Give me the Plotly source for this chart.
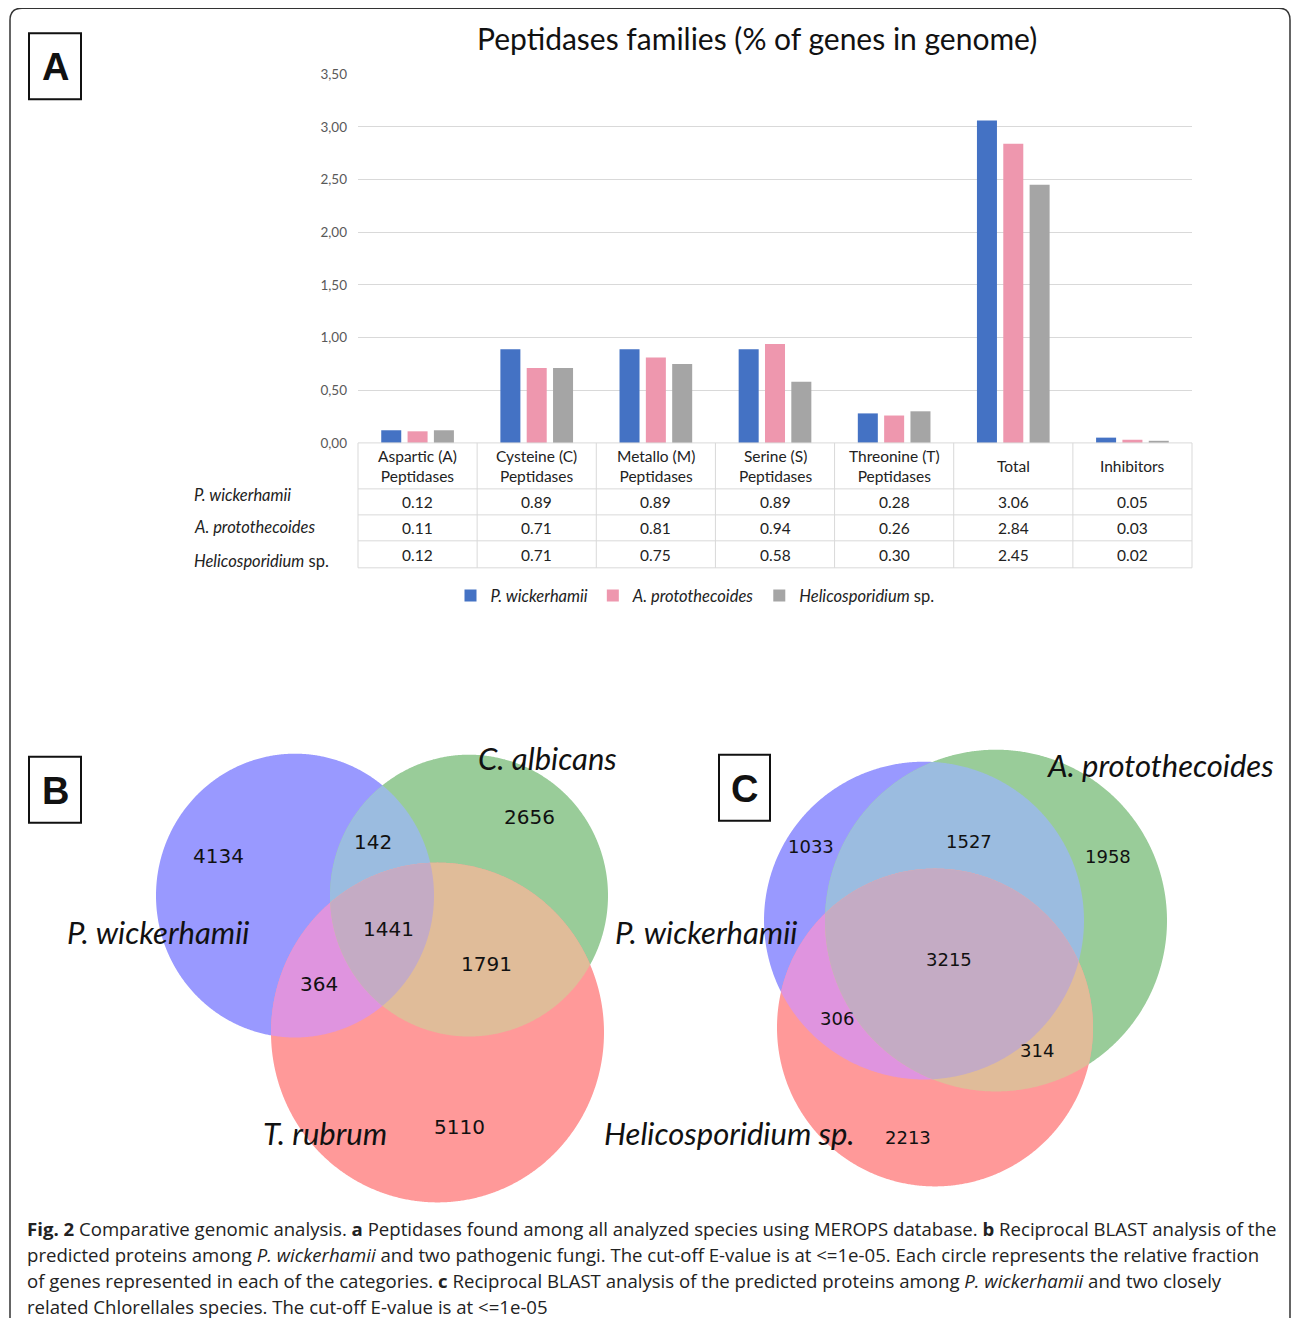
import numpy as np
import plotly.graph_objects as go

W, H = 1292, 1326

# ---------------- data ----------------
categories = ["Aspartic (A)<br>Peptidases", "Cysteine (C)<br>Peptidases", "Metallo (M)<br>Peptidases",
              "Serine (S)<br>Peptidases", "Threonine (T)<br>Peptidases", "Total", "Inhibitors"]
species_names = ["<i>P. wickerhamii</i>", "<i>A. protothecoides</i>", "<i>Helicosporidium</i> sp."]
p_wickerhamii = [0.12, 0.89, 0.89, 0.89, 0.28, 3.06, 0.05]
a_protothecoides = [0.11, 0.71, 0.81, 0.94, 0.26, 2.84, 0.03]
helicosporidium = [0.12, 0.71, 0.75, 0.58, 0.30, 2.45, 0.02]
y_tick_values = [0, 0.5, 1.0, 1.5, 2.0, 2.5, 3.0, 3.5]
y_tick_labels = ["0,00", "0,50", "1,00", "1,50", "2,00", "2,50", "3,00", "3,50"]
chart_title = "Peptidases families (% of genes in genome)"

venn_regions = ["100", "010", "110", "001", "101", "011", "111"]
venn_b_sets = ["P. wickerhamii", "C. albicans", "T. rubrum"]
venn_b_counts = [4134, 2656, 142, 5110, 364, 1791, 1441]
venn_c_sets = ["P. wickerhamii", "A. protothecoides", "Helicosporidium sp."]
venn_c_counts = [1033, 1958, 1527, 2213, 306, 314, 3215]

caption_lines = [
    "<b>Fig. 2</b> Comparative genomic analysis. <b>a</b> Peptidases found among all analyzed species using MEROPS database. <b>b</b> Reciprocal BLAST analysis of the",
    "predicted proteins among <i>P. wickerhamii</i> and two pathogenic fungi. The cut-off E-value is at &lt;=1e-05. Each circle represents the relative fraction",
    "of genes represented in each of the categories. <b>c</b> Reciprocal BLAST analysis of the predicted proteins among <i>P. wickerhamii</i> and two closely",
    "related Chlorellales species. The cut-off E-value is at &lt;=1e-05",
]

# ---------------- layout / style ----------------
# vertical placement helper (maps target picture rows to figure rows)
Y_OFF, Y_SC = 7.8, 0.9886
def Y(y):
    return (y - Y_OFF) / Y_SC

series_colors = ["#4472C4", "#EE97AE", "#A5A5A5"]
PLOT_L, PLOT_R, PLOT_T, PLOT_B = 358, 1192, 74, 443
COL_W = (PLOT_R - PLOT_L) / len(categories)
ROW_LINES = [443, 489, 515, 541, 568]
ROW_Y = [502, 528, 555]
ROW_LABEL_Y = [495, 527, 561]
CHART_FONT = "Lato"

venn_b_geom = [(295, 896, 139, 142), (469, 896, 139, 141), (437.5, 1033, 166.5, 170)]
venn_c_geom = [(924, 921, 160, 159), (996, 921, 171, 171), (935, 1028, 158, 159)]
venn_b_count_pos = [(218, 856), (529, 817), (373, 842), (459, 1128), (319, 984), (486, 964), (388, 929)]
venn_c_count_pos = [(811, 847), (1108, 857), (969, 842), (908, 1138), (837, 1019), (1037, 1051), (949, 960)]
venn_b_label_pos = [(158, 932), (547, 758), (325, 1134)]
venn_c_label_pos = [(706, 932), (1160, 765), (729, 1134)]
region_colors = {"100": "#9999FF", "010": "#99CC99", "001": "#FF9999",
                 "110": "#9BBCE0", "101": "#DF94DF", "011": "#E0BC99", "111": "#C4ABC4"}

fig = go.Figure()

# ---------------- bar chart ----------------
for name, vals, col in zip(species_names, [p_wickerhamii, a_protothecoides, helicosporidium], series_colors):
    fig.add_trace(go.Bar(x=categories, y=vals, name=name, marker=dict(color=col, line=dict(width=0)),
                         xaxis="x", yaxis="y", hoverinfo="skip"))

# invisible pixel-space overlay axis for table, venn, annotations
fig.add_trace(go.Scatter(x=[0], y=[0], xaxis="x2", yaxis="y2", mode="markers",
                         marker=dict(opacity=0), showlegend=False, hoverinfo="skip"))

shapes = []
annotations = []

def px_ann(x, y, text, size, color="#222", family=CHART_FONT, xanchor="center", **kw):
    annotations.append(dict(x=x, y=Y(y), xref="x2", yref="y2", text=text, showarrow=False,
                            xanchor=xanchor, yanchor="middle",
                            font=dict(size=size, color=color, family=family), **kw))

def px_line(x0, y0, x1, y1, color="#D9D9D9", width=1):
    shapes.append(dict(type="line", x0=x0, y0=Y(y0), x1=x1, y1=Y(y1), xref="x2", yref="y2",
                       line=dict(color=color, width=width), layer="above"))

# outer frame
fy0, fy1, fy2 = Y(8), Y(20), Y(1340)
shapes.append(dict(type="path", xref="x2", yref="y2",
                   path=f"M 10,{fy2} L 10,{fy1} Q 10,{fy0} 22,{fy0} L 1279,{fy0} Q 1290,{fy0} 1290,{fy1} L 1290,{fy2}",
                   line=dict(color="#333", width=1.5)))

# title
px_ann(757, 38, chart_title, 30, color="#111")

# table
for yl in ROW_LINES:
    px_line(PLOT_L, yl, PLOT_R, yl)
for i in range(len(categories) + 1):
    x = PLOT_L + i * COL_W
    px_line(x, ROW_LINES[0], x, ROW_LINES[-1])
series_all = [p_wickerhamii, a_protothecoides, helicosporidium]
for i, cat in enumerate(categories):
    cx = PLOT_L + (i + 0.5) * COL_W
    px_ann(cx, 466, cat, 15.5, color="#222")
    for r, vals in enumerate(series_all):
        px_ann(cx, ROW_Y[r], f"{vals[i]:.2f}", 15.5, color="#222")
for r, name in enumerate(species_names):
    px_ann(192, ROW_LABEL_Y[r], name, 16.5, color="#222", xanchor="left")

# panel letters
for (x0, y0, x1, y1, letter) in [(29, 33, 81, 99, "A"), (29, 757, 81, 823, "B"), (719, 755, 770, 821, "C")]:
    shapes.append(dict(type="rect", x0=x0, y0=Y(y0), x1=x1, y1=Y(y1), xref="x2", yref="y2",
                       line=dict(color="#111", width=2)))
    px_ann((x0 + x1) / 2, (y0 + y1) / 2 + 1, f"<b>{letter}</b>", 38, color="#111", family="Liberation Sans")

# venn diagrams
def ellipse_pts(c, n=900):
    cx, cy, rx, ry = c
    t = np.linspace(0, 2 * np.pi, n, endpoint=False)
    return np.c_[cx + rx * np.cos(t), Y(cy) + ry / Y_SC * np.sin(t)]

def inside(p, c):
    cx, cy, rx, ry = c
    return ((p[:, 0] - cx) / rx) ** 2 + ((p[:, 1] - Y(cy)) / (ry / Y_SC)) ** 2 <= 1 + 1e-9

def region_poly(cs):
    pts = []
    for i, c in enumerate(cs):
        p = ellipse_pts(c)
        m = np.ones(len(p), bool)
        for j, d in enumerate(cs):
            if j != i:
                m &= inside(p, d)
        pts.append(p[m])
    P = np.vstack(pts)
    ctr = P.mean(axis=0)
    ang = np.arctan2(P[:, 1] - ctr[1], P[:, 0] - ctr[0])
    return P[np.argsort(ang)]

def poly_path(P):
    return "M " + " L ".join(f"{x:.2f},{y:.2f}" for x, y in P) + " Z"

def draw_venn(geom, counts, count_pos, set_names, label_pos, num_size):
    for code in ["100", "010", "001", "110", "101", "011", "111"]:
        idx = [k for k, ch in enumerate(code) if ch == "1"]
        P = region_poly([geom[k] for k in idx])
        shapes.append(dict(type="path", path=poly_path(P), xref="x2", yref="y2",
                           fillcolor=region_colors[code], line=dict(width=0), layer="below"))
    for code, cnt, (x, y) in zip(venn_regions, counts, count_pos):
        px_ann(x, y, str(cnt), num_size, color="#111", family="DejaVu Sans")
    for name, (x, y) in zip(set_names, label_pos):
        px_ann(x, y, f"<i>{name}</i>", 31, color="#111", family=CHART_FONT)

draw_venn(venn_b_geom, venn_b_counts, venn_b_count_pos, venn_b_sets, venn_b_label_pos, 20)
draw_venn(venn_c_geom, venn_c_counts, venn_c_count_pos, venn_c_sets, venn_c_label_pos, 18)

# caption
for k, line in enumerate(caption_lines):
    px_ann(25, 1229 + 26 * k, line, 18.6, color="#222", family="Open Sans", xanchor="left")

fig.update_layout(
    width=W, height=H, autosize=False,
    margin=dict(l=0, r=0, t=0, b=0),
    paper_bgcolor="white", plot_bgcolor="rgba(0,0,0,0)",
    barmode="group", bargap=0.337, bargroupgap=0.24,
    font=dict(family=CHART_FONT, color="#222"),
    xaxis=dict(domain=[PLOT_L / W, PLOT_R / W], anchor="y", type="category",
               showticklabels=False, showgrid=False, zeroline=False, showline=False,
               range=[-0.5, len(categories) - 0.5]),
    yaxis=dict(domain=[1 - Y(PLOT_B) / H, 1 - Y(PLOT_T) / H], anchor="x", range=[0, 3.5],
               tickvals=y_tick_values, ticktext=y_tick_labels, showgrid=True,
               gridcolor="#D9D9D9", gridwidth=1, zeroline=False, showline=False, ticks="",
               tickfont=dict(size=13.5, color="#595959", family=CHART_FONT), ticklabelstandoff=10),
    xaxis2=dict(domain=[0, 1], anchor="y2", range=[0, W], visible=False),
    yaxis2=dict(domain=[0, 1], anchor="x2", range=[H, 0], visible=False),
    legend=dict(orientation="h", x=695 / W, y=1 - Y(596) / H, xanchor="center", yanchor="middle",
                font=dict(size=16.5, color="#222", family=CHART_FONT), bgcolor="rgba(0,0,0,0)"),
    shapes=shapes, annotations=annotations,
)

post = (
    "document.documentElement.style.margin='0';document.documentElement.style.overflow='hidden';"
    "document.body.style.margin='0';document.body.style.padding='0';document.body.style.overflow='hidden';"
    "var d=document.getElementById('{plot_id}');"
    "d.style.position='fixed';d.style.top='0px';d.style.left='0px';"
)
fig.write_html("out.html", config={"displayModeBar": False}, post_script=post)
